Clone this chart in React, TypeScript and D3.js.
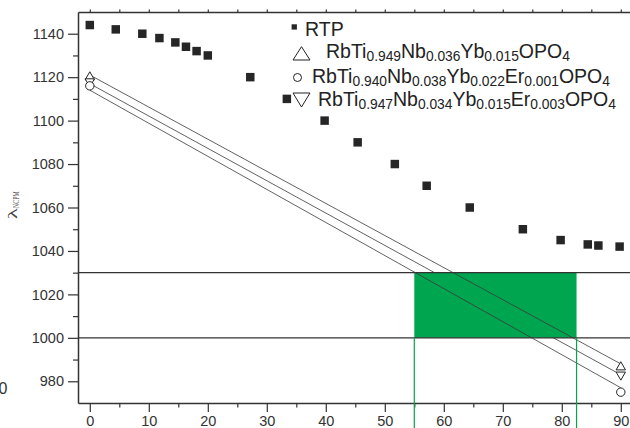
import React, { useEffect, useRef } from 'react'
import * as d3 from 'd3'

const W = 630
const H = 428

// RTP points (angle, lambda NCPM)
const rtpAngle = [0, 4.4, 8.9, 11.8, 14.5, 16.3, 18.1, 20, 27.2, 33.4, 39.8, 45.4, 51.7, 57.1, 64.4, 73.4, 79.8, 84.4, 86.2, 89.8]
const rtpLambda = [1144, 1142, 1140, 1138, 1136, 1134, 1132, 1130, 1120, 1110, 1100, 1090, 1080, 1070, 1060, 1050, 1045, 1043, 1042.5, 1042]

// doped crystals, measured at the two ends
const endAngle = [0, 90]
const nb036Lambda = [1120, 986.5] // triangle up
const er001Lambda = [1116, 975] // circle
const er003Lambda = [1118, 983] // triangle down

// straight fit lines through the ends
const nb036Fit = [1121, 988]
const er001Fit = [1114, 977]
const er003Fit = [1117, 983]

// phase matching band
const bandLambda = [1000, 1030]
const bandAngle = [55, 82.5]

const xMajor = d3.range(0, 91, 10)
const xMinor = d3.range(5, 90, 10)
const xTop = d3.range(0, 91, 5)
const yMajor = d3.range(980, 1141, 20)
const yMinor = d3.range(990, 1140, 20)

const legendLabels = [
  'RTP',
  'RbTi_{0.949}Nb_{0.036}Yb_{0.015}OPO_{4}',
  'RbTi_{0.940}Nb_{0.038}Yb_{0.022}Er_{0.001}OPO_{4}',
  'RbTi_{0.947}Nb_{0.034}Yb_{0.015}Er_{0.003}OPO_{4}'
]

const App = () => {
  const ref = useRef<SVGSVGElement>(null)

  useEffect(() => {
    const svg = d3.select(ref.current)
    svg.selectAll('*').remove()
    const ink = '#333'
    const green = '#00a54f'
    const sans = 'Liberation Sans, Arial, sans-serif'

    const x = d3.scaleLinear().domain([-2, 92]).range([78, 632.6])
    const y = d3.scaleLinear().domain([970, 1150]).range([403, 12])

    const fitLine = d3
      .line<number>()
      .x((d, i) => x(endAngle[i]))
      .y((d) => y(d))

    const drawFit = (vals: number[]) =>
      svg
        .append('path')
        .datum(vals)
        .attr('d', fitLine)
        .attr('fill', 'none')
        .attr('stroke', '#3a3a3a')
        .attr('stroke-width', 0.8)

    // middle fit line sits under the green band
    drawFit(er003Fit)

    svg
      .append('rect')
      .attr('x', x(bandAngle[0]))
      .attr('y', y(bandLambda[1]))
      .attr('width', x(bandAngle[1]) - x(bandAngle[0]))
      .attr('height', y(bandLambda[0]) - y(bandLambda[1]))
      .attr('fill', green)

    bandLambda.forEach((v) => {
      svg
        .append('line')
        .attr('x1', x(-2))
        .attr('x2', x(92))
        .attr('y1', y(v))
        .attr('y2', y(v))
        .attr('stroke', ink)
        .attr('stroke-width', 1.2)
    })

    drawFit(nb036Fit)
    drawFit(er001Fit)

    // end markers
    const tri = d3.symbol().type(d3.symbolTriangle).size(38)
    const mk = svg.append('g').attr('fill', '#fff').attr('stroke', '#222').attr('stroke-width', 1)
    endAngle.forEach((a, i) => {
      mk.append('path')
        .attr('d', tri())
        .attr('transform', `translate(${x(a)},${y(nb036Lambda[i])})`)
      mk.append('path')
        .attr('d', tri())
        .attr('transform', `translate(${x(a)},${y(er003Lambda[i])}) rotate(180)`)
      mk.append('circle')
        .attr('cx', x(a))
        .attr('cy', y(er001Lambda[i]))
        .attr('r', 4.2)
    })

    // RTP squares
    const sq = d3.symbol().type(d3.symbolSquare).size(72)
    svg
      .append('g')
      .selectAll('path')
      .data(rtpAngle)
      .enter()
      .append('path')
      .attr('d', sq())
      .attr('transform', (d, i) => `translate(${x(d)},${y(rtpLambda[i])})`)
      .attr('fill', '#262626')

    // axes
    const styleAxis = (g: any) => {
      g.select('.domain').attr('stroke', ink).attr('stroke-width', 1.5)
      g.selectAll('.tick line').attr('stroke', ink).attr('stroke-width', 1.2)
      g.selectAll('.tick text').attr('fill', ink).attr('font-size', 14.5).attr('font-family', sans)
    }

    svg
      .append('g')
      .attr('transform', `translate(0,${y(970)})`)
      .call(d3.axisBottom(x).tickValues(xMajor).tickSize(9).tickSizeOuter(0).tickPadding(4).tickFormat(d3.format('d')))
      .call(styleAxis)
    svg
      .append('g')
      .attr('transform', `translate(0,${y(970)})`)
      .call(d3.axisBottom(x).tickValues(xMinor).tickSize(4.5).tickFormat(() => ''))
      .call(styleAxis)
      .call((g) => g.select('.domain').remove())
    svg
      .append('g')
      .attr('transform', `translate(0,${y(1150)})`)
      .call(d3.axisTop(x).tickValues(xTop).tickSize(2.5).tickSizeOuter(0).tickFormat(() => ''))
      .call(styleAxis)

    svg
      .append('g')
      .attr('transform', `translate(${x(-2)},0)`)
      .call(d3.axisLeft(y).tickValues(yMajor).tickSize(10).tickSizeOuter(0).tickPadding(4).tickFormat(d3.format('d')))
      .call(styleAxis)
    svg
      .append('g')
      .attr('transform', `translate(${x(-2)},0)`)
      .call(d3.axisLeft(y).tickValues(yMinor).tickSize(5).tickFormat(() => ''))
      .call(styleAxis)
      .call((g) => g.select('.domain').remove())

    // green guide lines down from the band
    bandAngle.forEach((a) => {
      svg
        .append('line')
        .attr('x1', x(a))
        .attr('x2', x(a))
        .attr('y1', y(bandLambda[0]))
        .attr('y2', H)
        .attr('stroke', green)
        .attr('stroke-width', 1.2)
    })

    // y label
    const yl = svg
      .append('text')
      .attr('transform', 'translate(17,219) rotate(-90)')
      .attr('font-family', 'Liberation Serif, Times New Roman, serif')
      .attr('fill', '#444')
    yl.append('tspan').attr('font-size', 12).attr('textLength', 11).attr('lengthAdjust', 'spacingAndGlyphs').text('λ')
    yl.append('tspan')
      .attr('font-size', 9)
      .attr('dy', 1.5)
      .attr('textLength', 16.6)
      .attr('lengthAdjust', 'spacingAndGlyphs')
      .text('NCPM')

    // stray label at the left edge
    svg
      .append('text')
      .attr('x', -1.5)
      .attr('y', 393.5)
      .attr('font-size', 16)
      .attr('font-family', sans)
      .attr('fill', ink)
      .text('0')

    // legend
    const lgX = [305, 326, 312, 318]
    const lgY = [36, 57.5, 82.5, 105.5]
    const lg = svg.append('g').attr('font-family', sans).attr('fill', '#222')
    legendLabels.forEach((label, i) => {
      const t = lg.append('text').attr('x', lgX[i]).attr('y', lgY[i]).attr('font-size', 19.5)
      const parts = label.match(/_\{[^}]*\}|[^_]+/g) || []
      let down = false
      parts.forEach((p) => {
        const sub = p.startsWith('_{')
        const s = t.append('tspan').text(sub ? p.slice(2, -1) : p)
        if (sub) {
          s.attr('font-size', 13.8).attr('dy', down ? 0 : 3.5)
          down = true
        } else {
          s.attr('dy', down ? -3.5 : 0)
          down = false
        }
      })
    })
    const ls = svg.append('g').attr('fill', 'none').attr('stroke', '#222').attr('stroke-width', 1)
    ls.append('rect').attr('x', 291.6).attr('y', 24.3).attr('width', 5.3).attr('height', 5.3).attr('fill', '#262626').attr('stroke', 'none')
    ls.append('path').attr('d', 'M293,60L310,60L301.5,46.7Z')
    ls.append('circle').attr('cx', 297.5).attr('cy', 77.5).attr('r', 4)
    ls.append('path').attr('d', 'M293,93L310,93L301.5,107Z')
  }, [])

  return (
    <svg
      ref={ref}
      width={W}
      height={H}
      style={{ position: 'absolute', left: 0, top: 0, background: '#fff' }}
    />
  )
}

export default App
